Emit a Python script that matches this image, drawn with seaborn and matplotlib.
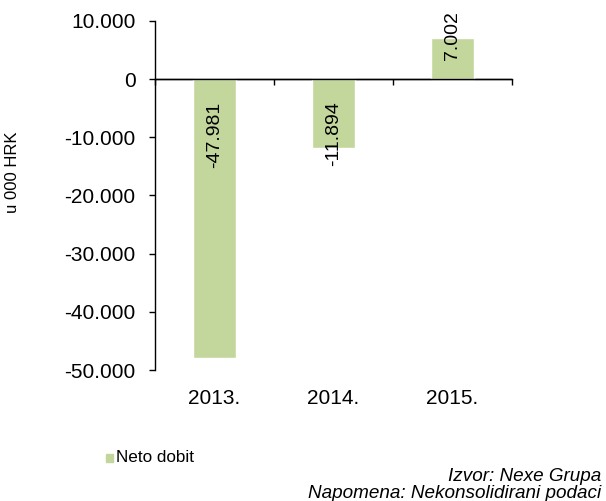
import matplotlib
matplotlib.use("Agg")
import matplotlib.pyplot as plt
import seaborn as sns
import pandas as pd
from matplotlib.ticker import FuncFormatter, FixedLocator

categories = ["2013.", "2014.", "2015."]
values = [-47981, -11894, 7002]
value_labels = ["-47.981", "-11.894", "7.002"]
series_name = "Neto dobit"
y_ticks = [-50000, -40000, -30000, -20000, -10000, 0, 10000]

sns.set_theme(style="white")
plt.rcParams['font.family'] = ['Liberation Sans', 'DejaVu Sans']
plt.rcParams['text.color'] = 'black'
plt.rcParams['xtick.color'] = 'black'
plt.rcParams['ytick.color'] = 'black'
plt.rcParams['axes.edgecolor'] = 'black'

bar_color = "#C3D69B"
df = pd.DataFrame({"Godina": categories, "Vrijednost": values})

fig = plt.figure(figsize=(6.06, 5.01), dpi=100)
ax = fig.add_axes([155/606, 1-370/501, (512-155)/606, (370-21)/501])

sns.barplot(data=df, x="Godina", y="Vrijednost", color=bar_color,
            width=0.36, ax=ax, saturation=1)

ax.set_xlim(-0.5, 2.5)
ax.set_ylim(-50000, 10000)
ax.yaxis.set_major_locator(FixedLocator(y_ticks))
ax.yaxis.set_major_formatter(FuncFormatter(lambda v, p: f"{int(v):,}".replace(",", ".")))
ax.tick_params(axis="y", which="major", direction="out", length=4, width=1,
               color="black", labelsize=15, pad=10, left=True, labelcolor="black")
ax.tick_params(axis="x", which="major", length=0, labelsize=15, pad=13.5,
               labelcolor="black")
ax.set_xlabel("")
ax.set_ylabel("")
for s in ["top", "right", "bottom"]:
    ax.spines[s].set_visible(False)
ax.spines["left"].set_color("black")
ax.spines["left"].set_linewidth(1)

# zero line with category boundary ticks
ax.axhline(0, color="black", lw=1, zorder=3)
zero_pos = (0 - (-50000)) / (10000 - (-50000))
sec = ax.secondary_xaxis(zero_pos)
sec.set_alignment("bottom")
sec.set_xticks([-0.5, 0.5, 1.5, 2.5])
sec.set_xticklabels([])
sec.tick_params(direction="out", length=4, width=1, color="black")
sec.spines["bottom"].set_color("black")
sec.spines["bottom"].set_linewidth(1)

# value labels
for i, (v, lab) in enumerate(zip(values, value_labels)):
    if v < 0:
        ax.annotate(lab, (i, 0), xytext=(0, -16), textcoords="offset points",
                    rotation=90, ha="center", va="top", fontsize=14)
    else:
        ax.annotate(lab, (i, v), xytext=(0, 2), textcoords="offset points",
                    rotation=90, ha="center", va="center", fontsize=14)

fig.text(12.5/606, 1-172/501, "u 000 HRK", rotation=90, ha="center", va="center", fontsize=12)

# legend
fig.patches.append(plt.Rectangle((105.5/606, 1-461.5/501), 7/606, 8/501,
                                 transform=fig.transFigure, color=bar_color))
fig.text(116/606, 1-461.5/501, series_name, ha="left", va="baseline", fontsize=12.3)

fig.text(601/606, 1-481/501, "Izvor: Nexe Grupa", ha="right", va="baseline",
         fontsize=13.6, style="italic")
fig.text(601/606, 1-498/501, "Napomena: Nekonsolidirani podaci", ha="right",
         va="baseline", fontsize=13.6, style="italic")

fig.savefig("out.png", dpi=100)
